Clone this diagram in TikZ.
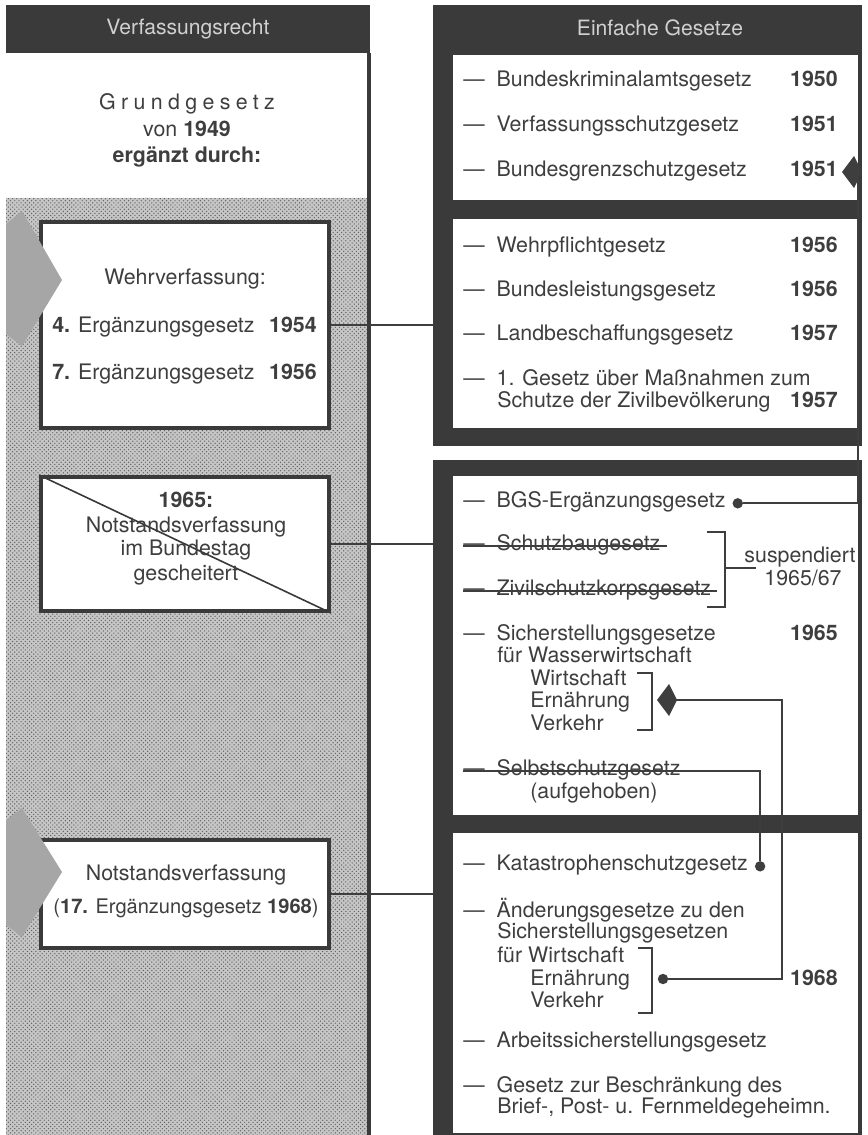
\documentclass[tikz,border=0pt]{standalone}
\usepackage{fontspec}
\setmainfont{TeX Gyre Heros}
\usetikzlibrary{arrows.meta,patterns}

\definecolor{frame}{HTML}{3A3A3A}
\definecolor{ink}{HTML}{3E3E3E}
\definecolor{headink}{HTML}{D0D0D0}
\definecolor{stipple}{HTML}{C6C6C6}
\definecolor{bigarrow}{HTML}{A6A6A6}

\newcommand{\lawsize}{\fontsize{15.2}{16}\selectfont}
\newcommand{\lawdash}{—\hspace{3mm}}

\tikzset{
  law/.style={anchor=base west, inner sep=0pt, text=ink, font=\lawsize},
  lawc/.style={anchor=base, inner sep=0pt, text=ink, font=\lawsize},
  year/.style={anchor=base east, inner sep=0pt, text=ink, font=\lawsize\bfseries},
  head/.style={inner sep=0pt, text=headink, font=\fontsize{15}{16}\selectfont},
  panel/.style={fill=frame, inner sep=0pt, outer sep=0pt},
  sheet/.style={fill=white, inner sep=0pt, outer sep=0pt},
  lbox/.style={draw=frame, line width=1mm, fill=white, inner sep=0pt, minimum width=72mm},
  wire/.style={draw=ink, line width=0.5mm},
  fatarrow/.style={wire, -{Kite[length=5mm,width=8mm,inset=2mm]}},
  knob/.style={circle, fill=ink, inner sep=0pt, minimum size=2.6mm},
  strike/.style={draw=ink, line width=0.45mm},
  clasp/.style={draw=ink, line width=0.7mm},
}

\begin{document}
\begin{tikzpicture}[x=0.25mm, y=-0.25mm]
  \useasboundingbox (0,0) rectangle (867,1135);

  % Verfassungsrecht
  \node[panel, minimum width=91mm, minimum height=12mm] (hdL) at (188,29) {};
  \node[head] (hdLt) at (188,29) {Verfassungsrecht};
  \fill[stipple] (6,198) rectangle (367,1135);
  \fill[pattern=crosshatch dots, pattern color=gray!75!black] (6,198) rectangle (367,1135);
  \draw[frame, line width=1mm] (369,53) -- (369,1135);

  \node[lawc] (gg) at (187,110) {\addfontfeatures{LetterSpace=25}Grundgesetz};
  \node[lawc] (ggjahr) at (187,137) {von \textbf{1949}};
  \node[lawc] (ggerg) at (187,163) {\bfseries ergänzt durch:};

  \node[lbox, minimum height=51.5mm] (wehr) at (185,325) {};
  \node[lawc] (wehrT) at (185,285) {Wehrverfassung:};
  \node[law] (erg4) at (52,333) {\textbf{4.} Ergänzungsgesetz};
  \node[year] (erg4j) at (317,333) {1954};
  \node[law] (erg7) at (52,379) {\textbf{7.} Ergänzungsgesetz};
  \node[year] (erg7j) at (317,379) {1956};

  \node[lbox, minimum height=33.5mm] (notA) at (185,544) {};
  \draw[frame, line width=0.4mm] (notA.north west) -- (notA.south east);
  \node[lawc] (notAa) at (186,507) {\bfseries 1965:};
  \node[lawc] (notAb) at (186,532) {Notstandsverfassung};
  \node[lawc] (notAc) at (186,555) {im Bundestag};
  \node[lawc] (notAd) at (186,580) {gescheitert};

  \node[lbox, minimum height=27mm] (notB) at (185,894) {};
  \node[lawc] (notBa) at (186,880) {Notstandsverfassung};
  \node[lawc, font=\fontsize{14.3}{16}\selectfont] (notBb) at (186,913) {(\textbf{17.} Ergänzungsgesetz \textbf{1968})};

  \fill[bigarrow] (6,224) -- (22,211) -- (62,280) -- (22,346) -- (6,334) -- cycle;
  \fill[bigarrow] (6,820) -- (22,808) -- (62,872) -- (22,937) -- (6,925) -- cycle;

  % Einfache Gesetze
  \node[panel, minimum width=107.25mm, minimum height=110.25mm] (panelI) at (647.5,225.5) {};
  \node[panel, minimum width=107.25mm, minimum height=168.75mm] (panelII) at (647.5,797.5) {};
  \node[head] (hdRt) at (660,28) {Einfache Gesetze};
  \node[sheet, minimum width=101.25mm, minimum height=36.25mm] (boxA) at (655.5,127.5) {};
  \node[sheet, minimum width=101.25mm, minimum height=52.25mm] (boxB) at (655.5,323.5) {};
  \node[sheet, minimum width=101.25mm, minimum height=84.75mm] (boxC) at (655.5,645.5) {};
  \node[sheet, minimum width=101.25mm, minimum height=75mm] (boxD) at (655.5,983) {};

  \node[law] (bka) at (463,87) {\lawdash Bundeskriminalamtsgesetz};
  \node[year] (bkaj) at (838,87) {1950};
  \node[law] (vfs) at (463,132) {\lawdash Verfassungsschutzgesetz};
  \node[year] (vfsj) at (838,132) {1951};
  \node[law] (bgs) at (463,177) {\lawdash Bundesgrenzschutzgesetz};
  \node[year] (bgsj) at (838,177) {1951};

  \node[law] (wpg) at (463,253) {\lawdash Wehrpflichtgesetz};
  \node[year] (wpgj) at (838,253) {1956};
  \node[law] (blg) at (463,297) {\lawdash Bundesleistungsgesetz};
  \node[year] (blgj) at (838,297) {1956};
  \node[law] (lbg) at (463,340) {\lawdash Landbeschaffungsgesetz};
  \node[year] (lbgj) at (838,340) {1957};
  \node[law] (zbg) at (463,385) {\lawdash 1. Gesetz über Maßnahmen zum};
  \node[law] (zbgb) at (497,407) {Schutze der Zivilbevölkerung};
  \node[year] (zbgj) at (838,407) {1957};

  \node[law] (bgse) at (463,507) {\lawdash BGS-Ergänzungsgesetz};
  \node[law] (sbg) at (463,550) {\lawdash Schutzbaugesetz};
  \node[law] (zsk) at (463,595) {\lawdash Zivilschutzkorpsgesetz};
  \node[lawc] (susp) at (800,562) {suspendiert};
  \node[lawc] (suspj) at (803,585) {1965/67};
  \node[law] (ssg) at (463,640) {\lawdash Sicherstellungsgesetze};
  \node[year] (ssgj) at (838,640) {1965};
  \node[law] (ssgw) at (497,662) {für Wasserwirtschaft};
  \node[law] (ssgwi) at (530,685) {Wirtschaft};
  \node[law] (ssge) at (530,707) {Ernährung};
  \node[law] (ssgv) at (530,730) {Verkehr};
  \node[law] (ssb) at (463,775) {\lawdash Selbstschutzgesetz};
  \node[law] (ssbauf) at (530,798) {(aufgehoben)};

  \node[law] (ksg) at (463,870) {\lawdash Katastrophenschutzgesetz};
  \node[law] (aeg) at (463,917) {\lawdash Änderungsgesetze zu den};
  \node[law] (aegb) at (497,938) {Sicherstellungsgesetzen};
  \node[law] (aegc) at (497,962) {für Wirtschaft};
  \node[law] (aege) at (530,985) {Ernährung};
  \node[law] (aegv) at (530,1007) {Verkehr};
  \node[year] (aegj) at (838,985) {1968};
  \node[law] (asg) at (463,1047) {\lawdash Arbeitssicherstellungsgesetz};
  \node[law] (gbg) at (463,1092) {\lawdash Gesetz zur Beschränkung des};
  \node[law] (gbgb) at (497,1113) {Brief-, Post- u. Fernmeldegeheimn.};

  % Verbindungen
  \node[knob] (bgsdot) at ([xshift=3mm]bgse.mid east) {};
  \node[knob] (ksgdot) at ([xshift=3mm]ksg.mid east) {};
  \node[knob] (aegdot) at (663,979) {};
  \coordinate (bgsturn) at (858,172);
  \coordinate (bgstip) at (842,172);
  \coordinate (aegturn) at (782,700);
  \coordinate (ssgtip) at (657,700);
  \coordinate (suspbr) at (725,568);
  \coordinate (suspend) at (756,568);

  \draw[strike] (sbg.mid west) -- ([xshift=1.5mm]sbg.mid east);
  \draw[strike] (zsk.mid west) -- ([xshift=1.5mm]zsk.mid east);
  \draw[clasp] (707,532) -| (725,607) -- (707,607);
  \draw[wire] (suspbr) -- (suspend);
  \draw[clasp] (637,673) -| (652,730) -- (637,730);
  \draw[clasp] (638,948) -| (652,1013) -- (638,1013);

  \draw[fatarrow] (bgsdot) -| (bgsturn) -- (bgstip);
  \draw[wire] (ssb.mid west) -| (ksgdot);
  \draw[fatarrow] (aegdot) -| (aegturn) -- (ssgtip);

  \draw[wire] (wehr.east) -- (wehr.east -| panelI.west);
  \draw[wire] (notA.east) -- (notA.east -| panelII.west);
  \draw[wire] (notB.east) -- (notB.east -| panelII.west);
\end{tikzpicture}
\end{document}
